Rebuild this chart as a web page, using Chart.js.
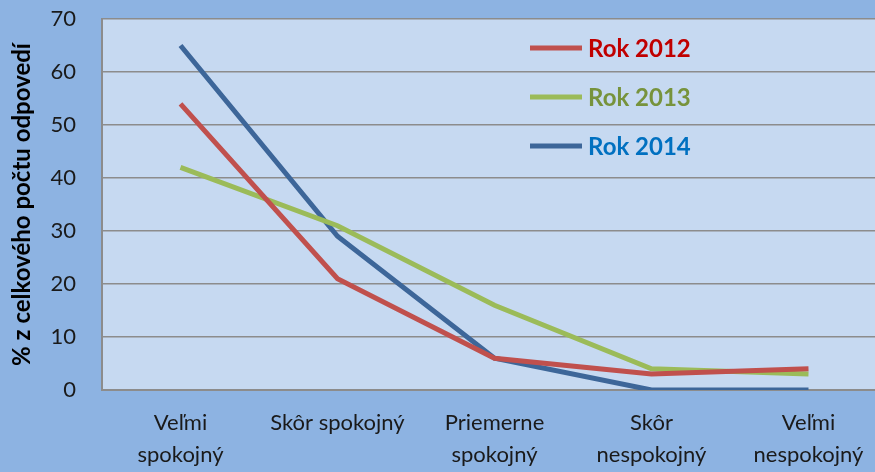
<!DOCTYPE html>
<html>
<head>
<meta charset="utf-8">
<script src="https://cdn.jsdelivr.net/npm/chart.js@4"></script>
<style>
  html, body { margin: 0; padding: 0; overflow: hidden; background: #8db3e2; }
  #wrap { width: 890px; height: 472px; }
</style>
</head>
<body>
<div id="wrap"><canvas id="chart"></canvas></div>
<script>
const categories = [
  ['Veľmi', 'spokojný'],
  ['Skôr spokojný'],
  ['Priemerne', 'spokojný'],
  ['Skôr', 'nespokojný'],
  ['Veľmi', 'nespokojný'],
];
const seriesNames = ['Rok 2012', 'Rok 2013', 'Rok 2014'];
const rok2012 = [54, 21, 6, 3, 4];
const rok2013 = [42, 31, 16, 4, 3];
const rok2014 = [65, 29, 6, 0, 0];
const yTicks = [0, 10, 20, 30, 40, 50, 60, 70];

const lineColors = ['#c0504d', '#9bbb59', '#3d6699'];
const textColors = ['#c00000', '#77933c', '#0070c0'];
const font = 'Lato, "Liberation Sans", sans-serif';

// plot background + legend drawn inside the plot area
const plotDecor = {
  id: 'plotDecor',
  beforeDraw(chart) {
    const { ctx, chartArea: a } = chart;
    ctx.save();
    ctx.fillStyle = '#c6d9f1';
    ctx.fillRect(a.left, a.top, a.right - a.left, a.bottom - a.top);
    ctx.restore();
  },
  afterDraw(chart) {
    const ctx = chart.ctx;
    ctx.save();
    chart.data.datasets.forEach((ds, i) => {
      const y = 48 + i * 49;
      ctx.strokeStyle = ds.borderColor;
      ctx.lineWidth = 5;
      ctx.beginPath();
      ctx.moveTo(530, y);
      ctx.lineTo(582, y);
      ctx.stroke();
      ctx.fillStyle = textColors[i];
      ctx.font = 'bold 24px ' + font;
      ctx.textBaseline = 'middle';
      ctx.fillText(ds.label, 588, y + 1);
    });
    ctx.restore();
  },
};

const ctx = document.getElementById('chart').getContext('2d');
new Chart(ctx, {
  type: 'line',
  data: {
    labels: categories,
    datasets: [rok2012, rok2013, rok2014].map((d, i) => ({
      label: seriesNames[i],
      data: d,
      borderColor: lineColors[i],
      backgroundColor: lineColors[i],
      borderWidth: 5,
      pointRadius: 0,
      tension: 0,
    })),
  },
  options: {
    responsive: true,
    maintainAspectRatio: false,
    animation: false,
    layout: { padding: { top: 19, right: 3, left: 8, bottom: 0 } },
    plugins: { legend: { display: false }, tooltip: { enabled: false } },
    scales: {
      x: {
        offset: true,
        grid: { display: false, drawTicks: false },
        border: { color: '#8c8c8c', width: 2 },
        ticks: {
          color: '#1a1a1a',
          font: { family: font, size: 22, lineHeight: 1.45 },
          padding: 17,
          maxRotation: 0,
          autoSkip: false,
        },
        afterFit(scale) {
          scale.height = 82;
          scale.paddingLeft = 0;
          scale.paddingRight = 0;
        },
      },
      y: {
        min: 0,
        max: 70,
        afterBuildTicks(scale) { scale.ticks = yTicks.map((v) => ({ value: v })); },
        grid: { color: '#8c8c8c', lineWidth: 1.5, drawTicks: false },
        border: { color: '#8c8c8c', width: 2 },
        ticks: {
          color: '#1a1a1a',
          font: { family: font, size: 22 },
          padding: 26,
        },
        title: {
          display: true,
          text: '% z celkového počtu odpovedí',
          color: '#000',
          font: { family: font, size: 24, weight: 'bold' },
          padding: { top: 0, bottom: 0 },
        },
        afterFit(scale) {
          scale.width = 94;
          scale.paddingTop = 0;
          scale.paddingBottom = 0;
        },
      },
    },
  },
  plugins: [plotDecor],
});
</script>
</body>
</html>
